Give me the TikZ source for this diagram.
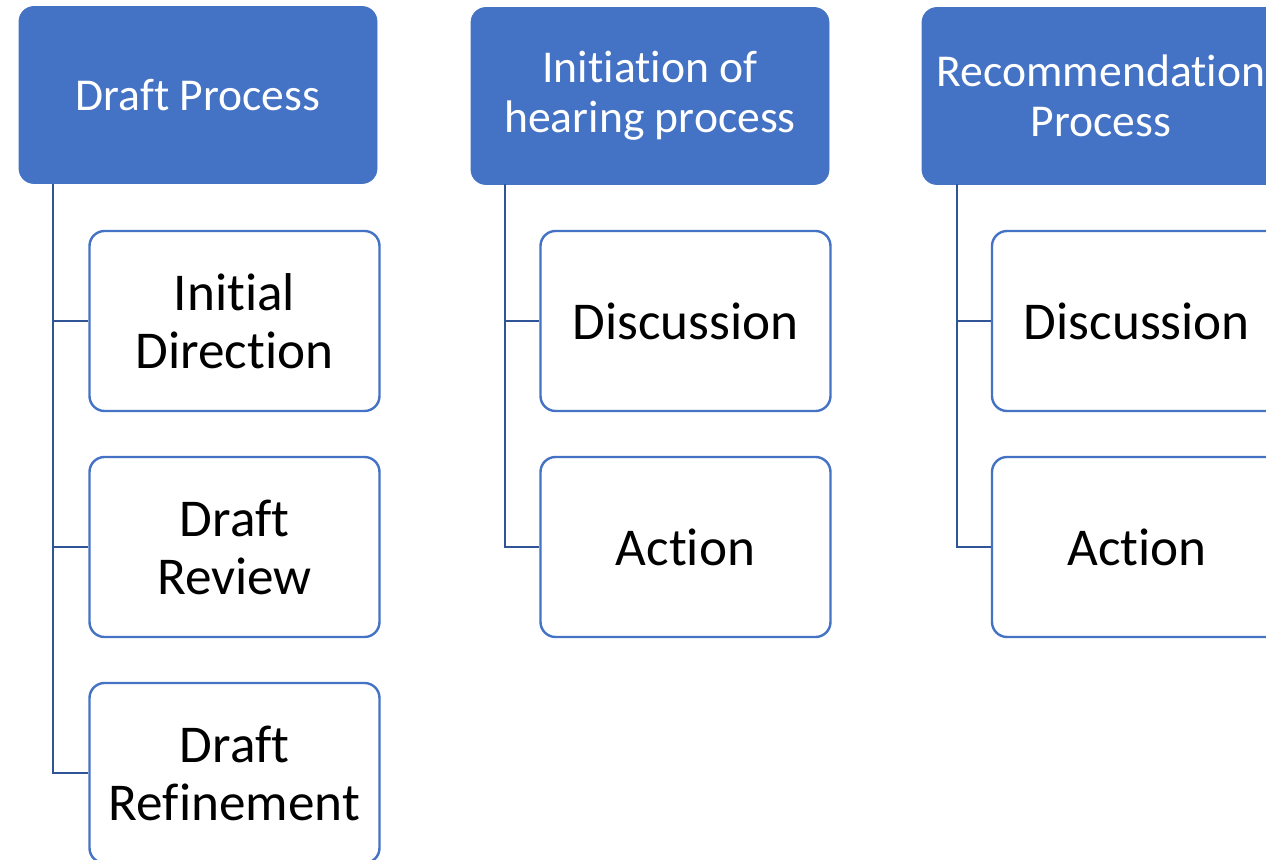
\documentclass[tikz,border=0pt]{standalone}
\usepackage{fontspec}
\setmainfont{Carlito}[Ligatures=NoCommon]
\definecolor{hdrblue}{HTML}{4472C4}
\definecolor{linkblue}{HTML}{2F5597}

\begin{document}
\begin{tikzpicture}[
            x=0.5pt, y=-0.5pt, % one unit is one pixel of the layout, y runs down
            hdr/.style={draw=hdrblue, fill=hdrblue, rounded corners=7.5pt,
                minimum width=179pt, minimum height=88.5pt, inner sep=0pt,
                text=white, align=center, font=\fontsize{22.8}{24.8}\selectfont},
            sub/.style={draw=hdrblue, line width=1.2pt, fill=white, rounded corners=7.5pt,
                minimum width=145pt, minimum height=90pt, inner sep=0pt,
                align=center, font=\fontsize{26.6}{29}\selectfont},
            link/.style={draw=linkblue, line width=1.4pt}
        ]

            % 1. Page frame (the picture is cut at the right and bottom)
            \useasboundingbox (0,0) rectangle (1266,860);
            \clip (0,0) rectangle (1266,860);

            % 2. Headers
            \node[hdr] (hdrDraft) at (198,95) {Draft Process};
            \node[hdr] (hdrHearing) at (650,96) {Initiation of\\hearing process};
            \node[hdr] (hdrRecomm) at (1101,96) {Recommendation\\Process};

            % 3. Sub steps
            \node[sub] (initDir) at (234.5,321) {Initial\\Direction};
            \node[sub] (draftRev) at (234.5,547) {Draft\\Review};
            \node[sub] (draftRef) at (234.5,773) {Draft\\Refinement};

            \node[sub] (hearDisc) at (685.5,321) {Discussion};
            \node[sub] (hearAct) at (685.5,547) {Action};

            \node[sub] (recDisc) at (1137,321) {Discussion};
            \node[sub] (recAct) at (1137,547) {Action};

            % 4. Trunks under the headers
            \coordinate (trunkDraft) at (53,184);
            \coordinate (trunkHearing) at (505,184);
            \coordinate (trunkRecomm) at (957,184);

            \draw[link] (trunkDraft) |- (initDir.west);
            \draw[link] (trunkDraft) |- (draftRev.west);
            \draw[link] (trunkDraft) |- (draftRef.west);

            \draw[link] (trunkHearing) |- (hearDisc.west);
            \draw[link] (trunkHearing) |- (hearAct.west);

            \draw[link] (trunkRecomm) |- (recDisc.west);
            \draw[link] (trunkRecomm) |- (recAct.west);

        \end{tikzpicture}
\end{document}
